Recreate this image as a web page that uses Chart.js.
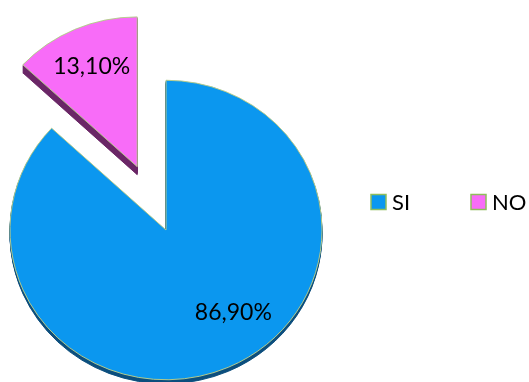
<!DOCTYPE html>
<html lang="es">
<head>
<meta charset="UTF-8">
<title>SI / NO</title>
<script src="https://cdn.jsdelivr.net/npm/chart.js"></script>
<style>
  html, body { margin: 0; padding: 0; background: #fff; }
  #wrap { position: relative; width: 529px; height: 382px; }
</style>
</head>
<body>
<div id="wrap"><canvas id="pieChart"></canvas></div>

<script>
const categories = ['SI', 'NO'];
const percentages = [86.9, 13.1];

// look of the slices
const sliceColors = ['#0b97ef', '#f86cf8'];
const sideColors = ['#0c4f7e', '#6a2766'];
const edgeColor = '#b5cc8c';
const explodeBy = [0, 72];   // px pulled out along the bisector
const sideDepth = [4, 8];    // px of rim visible under each slice
const tilt = 0.96;           // slight vertical squash of the disc
const labelSpots = [{ r: 0.70, turn: -14.5 }, { r: 0.73, turn: 0 }];
const textFont = 'Lato, "Open Sans", sans-serif';

function pct(v) {
    return v.toFixed(2).replace('.', ',') + '%';
}

function shiftOf(arc, i) {
    const mid = (arc.startAngle + arc.endAngle) / 2;
    return { x: Math.cos(mid) * explodeBy[i], y: Math.sin(mid) * explodeBy[i] };
}

// draws the pie itself: tilted disc, exploded slice and a dark rim underneath
const tiltedPie = {
    id: 'tiltedPie',
    beforeDatasetDraw(chart, args) {
        const ctx = chart.ctx;
        const arcs = args.meta.data;
        const cx = arcs[0].x, cy = arcs[0].y;
        ctx.save();
        ctx.translate(cx, cy);
        ctx.scale(1, tilt);
        ctx.translate(-cx, -cy);

        arcs.forEach((arc, i) => {
            const s = shiftOf(arc, i);
            const opts = arc.options;
            arc.options = Object.assign({}, opts, { backgroundColor: sideColors[i], borderColor: sideColors[i] });
            for (let d = sideDepth[i]; d > 0; d--) {
                ctx.save();
                ctx.translate(s.x, s.y + d / tilt);
                arc.draw(ctx);
                ctx.restore();
            }
            arc.options = opts;
        });

        arcs.forEach((arc, i) => {
            const s = shiftOf(arc, i);
            ctx.save();
            ctx.translate(s.x, s.y);
            arc.draw(ctx);
            ctx.restore();
        });

        ctx.restore();
        return false;
    },
    // value labels on top of the slices
    afterDatasetsDraw(chart) {
        const ctx = chart.ctx;
        const arcs = chart.getDatasetMeta(0).data;
        ctx.save();
        ctx.font = '23px ' + textFont;
        ctx.fillStyle = '#000';
        ctx.textAlign = 'center';
        ctx.textBaseline = 'middle';
        arcs.forEach((arc, i) => {
            const s = shiftOf(arc, i);
            const a = (arc.startAngle + arc.endAngle) / 2 + labelSpots[i].turn * Math.PI / 180;
            const dist = arc.outerRadius * labelSpots[i].r;
            const ux = arc.x + s.x + Math.cos(a) * dist;
            const uy = arc.y + s.y + Math.sin(a) * dist;
            ctx.fillText(pct(percentages[i]), ux, arc.y + (uy - arc.y) * tilt);
        });
        ctx.restore();
    }
};

// legend laid out in one row to the right of the pie
const rowLegend = {
    id: 'rowLegend',
    afterDraw(chart) {
        const ctx = chart.ctx;
        const x0 = 371, y = 202, pitch = 100, box = 15;
        ctx.save();
        ctx.font = '22px ' + textFont;
        ctx.textAlign = 'left';
        ctx.textBaseline = 'middle';
        categories.forEach((name, i) => {
            const bx = x0 + i * pitch;
            ctx.fillStyle = sliceColors[i];
            ctx.fillRect(bx, y - box / 2, box, box);
            ctx.strokeStyle = '#8fbd5c';
            ctx.lineWidth = 1.5;
            ctx.strokeRect(bx, y - box / 2, box, box);
            ctx.fillStyle = '#000';
            ctx.fillText(name, bx + box + 6, y + 1);
        });
        ctx.restore();
    }
};

const chart = new Chart(document.getElementById('pieChart'), {
    type: 'pie',
    data: {
        labels: categories,
        datasets: [{
            data: percentages,
            backgroundColor: sliceColors,
            borderColor: edgeColor,
            borderWidth: 1,
            radius: 156
        }]
    },
    options: {
        responsive: true,
        maintainAspectRatio: false,
        animation: false,
        layout: { padding: { left: 0, right: 197, top: 78, bottom: 0 } },
        plugins: {
            legend: { display: false },
            tooltip: { enabled: false }
        }
    },
    plugins: [tiltedPie, rowLegend]
});
</script>
</body>
</html>
